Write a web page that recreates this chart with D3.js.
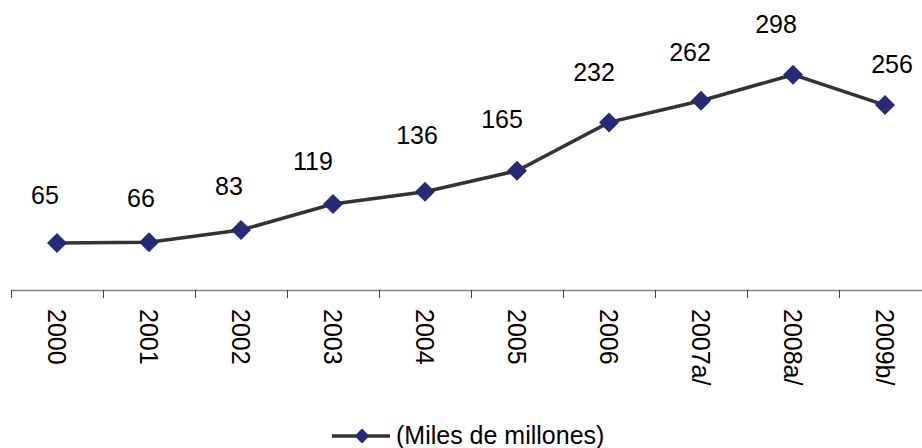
<!DOCTYPE html>
<html><head><meta charset="utf-8">
<script src="https://cdn.jsdelivr.net/npm/d3@7"></script>
<style>body{margin:0;background:#fff}svg{display:block}</style>
</head><body>
<svg id="c" width="922" height="448"></svg>
<script>
const categories = ["2000","2001","2002","2003","2004","2005","2006","2007a/","2008a/","2009b/"];
const values = [65,66,83,119,136,165,232,262,298,256];
const labelDx = [-12,-8,-12,-20,-8,-15,-15,-11,-17,7];
const labelDy = [-39,-35,-35,-34,-48,-43,-41,-40,-42,-32];
const seriesName = "(Miles de millones)";

const svg = d3.select("#c");
const font = "'Liberation Sans', Arial, sans-serif";
const fs = 25;
const x = d3.scaleBand().domain(categories).range([11, 931]);
const y = d3.scaleLinear().domain([0, 400]).range([290, 1]);
const cx = d => x(d) + x.bandwidth()/2;

// axis
svg.append("line").attr("x1",11).attr("x2",922).attr("y1",290.5).attr("y2",290.5)
  .attr("stroke","#808080").attr("stroke-width",1.5);
const ticks = categories.map(c => x(c));
svg.selectAll(".tick").data(ticks).join("line")
  .attr("x1",d=>d+0.5).attr("x2",d=>d+0.5).attr("y1",290).attr("y2",298)
  .attr("stroke","#404040").attr("stroke-width",1);
svg.selectAll(".xl").data(categories).join("text")
  .attr("transform",d=>`translate(${cx(d)},309) rotate(90)`)
  .attr("dominant-baseline","central")
  .attr("font-family",font).attr("font-size",fs).attr("fill","#000")
  .text(d=>d);

const pts = categories.map((c,i)=>({c, v: values[i], i}));
svg.append("path").datum(pts)
  .attr("d", d3.line().x(d=>cx(d.c)).y(d=>y(d.v)))
  .attr("fill","none").attr("stroke","#333333").attr("stroke-width",3.5);

const diamond = d3.symbol().type(d3.symbolSquare).size(200);
svg.selectAll(".pt").data(pts).join("path")
  .attr("d", diamond())
  .attr("transform", d=>`translate(${cx(d.c)},${y(d.v)}) rotate(45)`)
  .attr("fill","#262A78");

svg.selectAll(".vl").data(pts).join("text")
  .attr("x", d=>cx(d.c)+labelDx[d.i]).attr("y", d=>y(d.v)+labelDy[d.i])
  .attr("text-anchor","middle")
  .attr("font-family",font).attr("font-size",fs).attr("fill","#000")
  .text(d=>d.v);

// legend
svg.append("line").attr("x1",332).attr("x2",390).attr("y1",436).attr("y2",436)
  .attr("stroke","#333333").attr("stroke-width",3.5);
svg.append("path").attr("d", d3.symbol().type(d3.symbolSquare).size(110)())
  .attr("transform","translate(362,436) rotate(45)").attr("fill","#262A78");
svg.append("text").attr("x",396).attr("y",444)
  .attr("font-family",font).attr("font-size",fs).attr("fill","#000").text(seriesName);
</script>
</body></html>
